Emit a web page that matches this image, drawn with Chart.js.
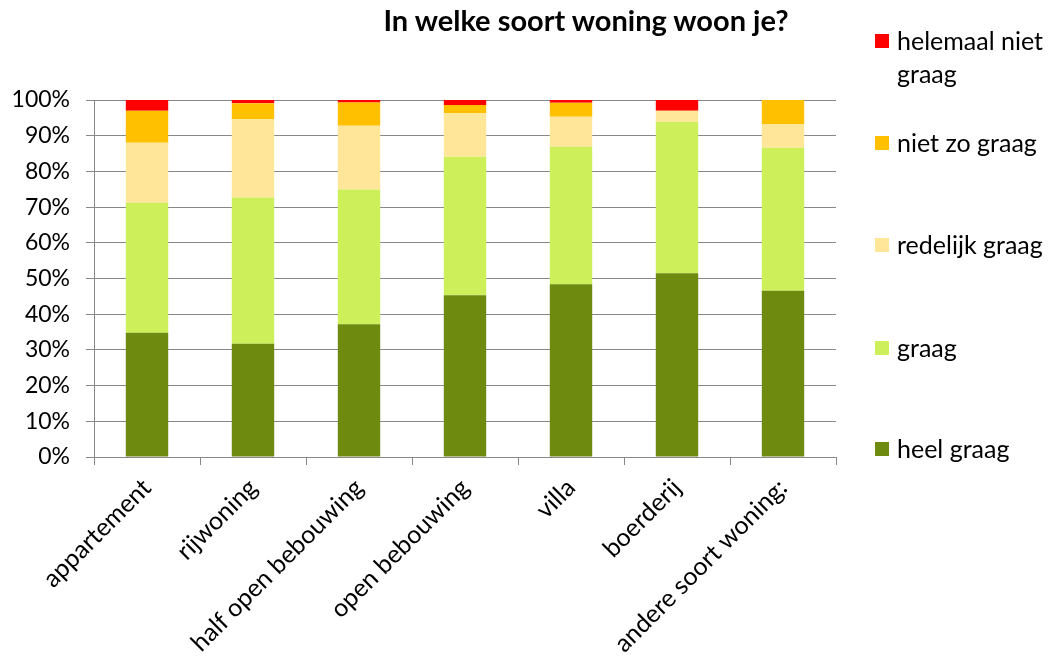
<!DOCTYPE html>
<html>
<head>
<meta charset="utf-8">
<script src="https://cdn.jsdelivr.net/npm/chart.js@4/dist/chart.umd.min.js"></script>
<style>
  html, body { margin: 0; padding: 0; background: #fff; }
  #wrap { position: relative; width: 1054px; height: 657px; overflow: hidden; }
  #title { position: absolute; left: 336px; width: 500px; top: 2px; text-align: center;
           font-family: Lato, sans-serif; font-weight: bold; font-size: 29px; color: #000; white-space: nowrap; }
  #legend { position: absolute; left: 875px; top: 0; font-family: Lato, sans-serif; font-size: 25px; color: #000; }
  .item { position: absolute; left: 0; width: 179px; line-height: 33px; }
  .sw { position: absolute; left: 0; top: 10px; width: 14px; height: 14px; }
  .lbl { position: absolute; left: 22px; top: 0; width: 165px; }
</style>
</head>
<body>
<div id="wrap">
  <canvas id="c" width="1054" height="657"></canvas>
  <div id="title"></div>
  <div id="legend"></div>
</div>
<script>
const chartTitle = "In welke soort woning woon je?";
const categories = ["appartement", "rijwoning", "half open bebouwing", "open bebouwing", "villa", "boerderij", "andere soort woning:"];
const seriesNames = ["heel graag", "graag", "redelijk graag", "niet zo graag", "helemaal niet graag"];
const heelGraag     = [34.8, 31.7, 37.2, 45.3, 48.4, 51.5, 46.6];
const graag         = [36.4, 41.0, 37.7, 38.8, 38.5, 42.4, 40.0];
const redelijkGraag = [16.8, 21.9, 17.9, 12.2, 8.4, 3.1, 6.7];
const nietZoGraag   = [9.0, 4.5, 6.5, 2.3, 3.9, 0.0, 6.7];
const helemaalNiet  = [3.0, 0.9, 0.7, 1.4, 0.8, 3.0, 0.0];
const yTicks = [0, 10, 20, 30, 40, 50, 60, 70, 80, 90, 100];
const colors = ["#6E8B10", "#CCEF5A", "#FFE699", "#FFC000", "#FF0000"];

const seriesValues = [heelGraag, graag, redelijkGraag, nietZoGraag, helemaalNiet];

document.getElementById('title').textContent = chartTitle;

// legend (top to bottom: reverse order)
const legendTops = [24, 126, 228, 331, 432];
const legend = document.getElementById('legend');
for (let i = seriesNames.length - 1, k = 0; i >= 0; i--, k++) {
  const it = document.createElement('div');
  it.className = 'item';
  it.style.top = legendTops[k] + 'px';
  const sw = document.createElement('div');
  sw.className = 'sw';
  sw.style.background = colors[i];
  const lb = document.createElement('div');
  lb.className = 'lbl';
  lb.textContent = seriesNames[i];
  it.appendChild(sw); it.appendChild(lb);
  legend.appendChild(it);
}

const datasets = seriesNames.map((n, i) => ({
  label: n,
  data: seriesValues[i],
  backgroundColor: colors[i],
  borderWidth: 0,
  barPercentage: 0.4,
  categoryPercentage: 1.0
}));

new Chart(document.getElementById('c'), {
  type: 'bar',
  data: { labels: categories, datasets },
  options: {
    responsive: false,
    animation: false,
    layout: { padding: { top: 100, right: 218, left: 0, bottom: 0 } },
    plugins: { legend: { display: false }, title: { display: false }, tooltip: { enabled: false } },
    scales: {
      x: {
        stacked: true,
        grid: { display: true, drawOnChartArea: false, drawTicks: true, tickLength: 8, color: '#888', lineWidth: 1, offset: true },
        border: { display: true, color: '#888', width: 1 },
        ticks: { minRotation: 45, maxRotation: 45, autoSkip: false, color: '#000', padding: 8,
                 font: { family: 'Lato', size: 25 } },
        afterFit: (s) => { s.height = 200; }
      },
      y: {
        stacked: true,
        min: 0, max: 100,
        afterBuildTicks: (s) => { s.ticks = yTicks.map(v => ({ value: v })); },
        grid: { color: '#888', lineWidth: 1, tickLength: 8, drawTicks: true },
        border: { display: true, color: '#888', width: 1 },
        ticks: { color: '#000', padding: 16, font: { family: 'Lato', size: 23 },
                 callback: (v) => v + '%' },
        afterFit: (s) => { s.width = 94; }
      }
    }
  }
});
</script>
</body>
</html>
